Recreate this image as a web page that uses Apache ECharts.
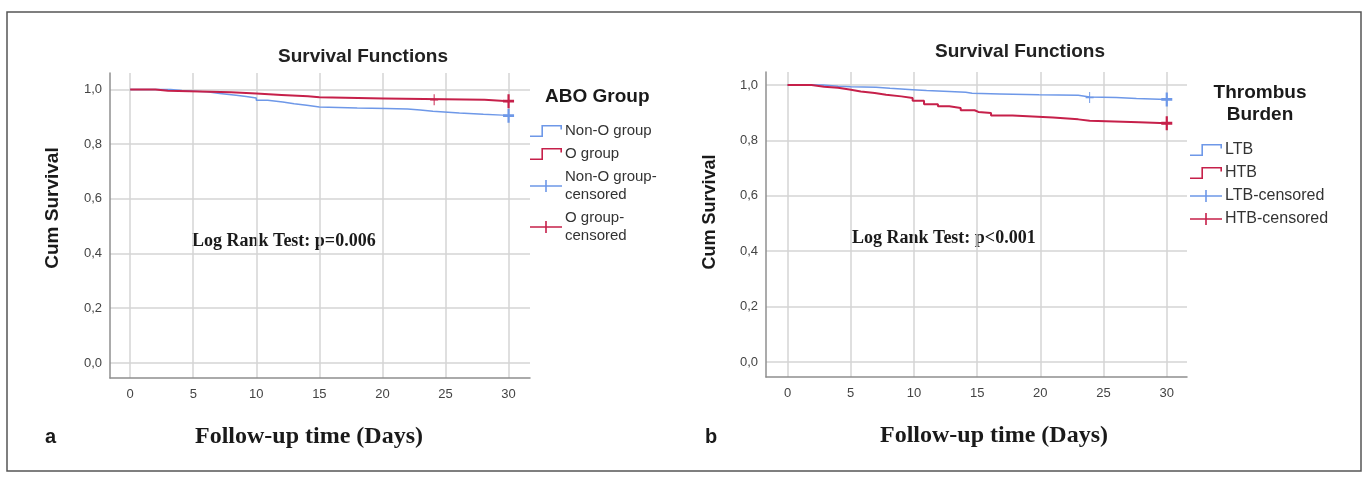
<!DOCTYPE html>
<html><head><meta charset="utf-8">
<script src="https://cdn.jsdelivr.net/npm/echarts@6/dist/echarts.min.js"></script>
<style>html,body{margin:0;padding:0;background:#fff}#c{width:1368px;height:482px}</style>
</head><body><div id="c"></div>
<script>
// ---------- shared ticks ----------
const xTicks = [0, 5, 10, 15, 20, 25, 30];
const yTicks = [0, 0.2, 0.4, 0.6, 0.8, 1.0];
const yTickLabels = ['0,0', '0,2', '0,4', '0,6', '0,8', '1,0'];

// ---------- panel a: ABO group ----------
const nonOTime = [0, 3.2, 4.1, 6.1, 7.1, 8.4, 9.2, 10.0, 10.9, 12.1, 13.0, 14.0, 15.0, 16.5, 18.0, 20.3, 22.0, 23.0, 24.0, 26.1, 28.0, 29.5, 30];
const nonOSurv = [1.0, 0.996, 0.991, 0.985, 0.979, 0.974, 0.969, 0.960, 0.954, 0.948, 0.942, 0.936, 0.934, 0.932, 0.930, 0.928, 0.925, 0.920, 0.914, 0.909, 0.906, 0.904, 0.904];
const oTime = [0, 2.0, 3.0, 8.0, 10.0, 12.0, 14.1, 15.0, 20.1, 28.1, 30];
const oSurv = [1.0, 0.995, 0.990, 0.985, 0.980, 0.975, 0.971, 0.967, 0.962, 0.957, 0.957];
const nonOCensTime = [30];
const nonOCensSurv = [0.904];
const oCensTime = [24.1, 30];
const oCensSurv = [0.962, 0.957];

// ---------- panel b: thrombus burden ----------
const ltbTime = [0, 2.8, 4.0, 5.0, 7.0, 8.1, 9.9, 11.0, 12.8, 14.1, 14.6, 16.8, 19.9, 23.0, 23.9, 26.0, 27.6, 30];
const ltbSurv = [1.0, 0.996, 0.994, 0.992, 0.988, 0.983, 0.980, 0.977, 0.974, 0.970, 0.968, 0.965, 0.963, 0.957, 0.955, 0.951, 0.948, 0.948];
const htbTime = [0, 1.9, 2.9, 4.0, 4.9, 5.8, 6.9, 7.8, 9.0, 9.9, 10.8, 11.9, 12.8, 13.7, 14.8, 15.1, 16.1, 17.8, 21.0, 23.0, 23.9, 27.8, 30];
const htbSurv = [1.0, 0.994, 0.990, 0.984, 0.977, 0.971, 0.965, 0.959, 0.953, 0.943, 0.931, 0.923, 0.917, 0.909, 0.903, 0.899, 0.890, 0.883, 0.876, 0.871, 0.866, 0.862, 0.862];
const ltbCensTime = [23.9, 30];
const ltbCensSurv = [0.955, 0.948];
const htbCensTime = [30];
const htbCensSurv = [0.862];

// ---------- styling ----------
const BLUE = '#6e98e8';
const RED = '#c6204a';
const SANS = '"Liberation Sans", Arial, sans-serif';
const SERIF = '"Liberation Serif", "Times New Roman", serif';
const GRID_C = '#d4d4d4';
const AXIS_C = '#8f8f8f';

const zip = (a, b) => a.map((v, i) => [v, b[i]]);
const STEP_ICON = 'path://M0,10.4h13v1.6h-13z M11.4,0h1.6v12h-1.6z M11.4,0h20.6v1.6h-20.6z M30.4,0h1.6v4.5h-1.6z';
const PLUS_ICON = 'path://M0,5.2h32v1.6h-32z M15.2,0h1.6v12h-1.6z';
const PLUS_THIN = 'path://M0,4.4h10v1.2h-10z M4.4,0h1.2v10h-1.2z';
const PLUS_THICK = 'path://M0,4h10v2h-10z M4,0h2v10h-2z';

function xAxis(gi, min, max) {
  return {
    type: 'value', gridIndex: gi, min: min, max: max,
    axisLine: { show: true, onZero: false, lineStyle: { color: AXIS_C, width: 1.5 } },
    axisTick: { show: false, customValues: xTicks },
    axisLabel: { customValues: xTicks, color: '#444', fontSize: 13, fontFamily: SANS, margin: 10 },
    splitLine: { show: true, lineStyle: { color: GRID_C, width: 1.5 } }
  };
}
function yAxis(gi, min, max) {
  return {
    type: 'value', gridIndex: gi, min: min, max: max,
    axisLine: { show: true, onZero: false, lineStyle: { color: AXIS_C, width: 1.5 } },
    axisTick: { show: false, customValues: yTicks },
    axisLabel: {
      customValues: yTicks, color: '#444', fontSize: 13, fontFamily: SANS, margin: 8,
      formatter: v => yTickLabels[yTicks.findIndex(t => Math.abs(t - v) < 1e-6)] || ''
    },
    splitLine: { show: true, lineStyle: { color: GRID_C, width: 1.5 } }
  };
}
function stepSeries(name, gi, t, s, color, width, z) {
  return {
    type: 'line', name: name, xAxisIndex: gi, yAxisIndex: gi, step: 'end',
    symbol: 'none', data: zip(t, s), z: z, silent: true,
    lineStyle: { color: color, width: width }, itemStyle: { color: color },
    emphasis: { disabled: true }
  };
}
function censSeries(name, gi, t, s, color, z) {
  return {
    type: 'scatter', name: name, xAxisIndex: gi, yAxisIndex: gi,
    data: zip(t, s), z: z, silent: true,
    symbol: (v) => v[0] >= 29.9 ? PLUS_THICK : PLUS_THIN,
    symbolSize: (v) => v[0] >= 29.9 ? [11, 14] : [8, 11],
    itemStyle: { color: color, opacity: 1 },
    emphasis: { disabled: true }
  };
}
function legend(names, icons, left, top, fs) {
  return {
    orient: 'vertical', left: left, top: top, itemWidth: 32, itemHeight: 12, itemGap: 5,
    selectedMode: false, padding: 0,
    itemStyle: { borderWidth: 0 },
    textStyle: { color: '#333', fontSize: fs, fontFamily: SANS, lineHeight: 18, padding: [0, 0, 0, -2] },
    data: names.map((n, i) => ({ name: n, icon: icons[i] }))
  };
}
function txt(x, y, text, font, align, extra) {
  return Object.assign({
    type: 'text', x: x, y: y, silent: true,
    style: { text: text, x: 0, y: 0, font: font, fill: '#1a1a1a', textAlign: align || 'left', textVerticalAlign: 'middle' }
  }, extra || {});
}

const chart = echarts.init(document.getElementById('c'), null, { renderer: 'canvas' });
chart.setOption({
  backgroundColor: '#ffffff',
  animation: false,
  grid: [
    { left: 110, top: 73, width: 420, height: 305 },
    { left: 766, top: 72, width: 421, height: 305 }
  ],
  xAxis: [xAxis(0, -1.6, 31.7), xAxis(1, -1.7, 31.6)],
  yAxis: [yAxis(0, -0.055, 1.06), yAxis(1, -0.054, 1.047)],
  legend: [
    legend(['Non-O group', 'O group', 'Non-O group-\ncensored', 'O group-\ncensored'],
      [STEP_ICON, STEP_ICON, PLUS_ICON, PLUS_ICON], 530, 122, 15),
    legend(['LTB', 'HTB', 'LTB-censored', 'HTB-censored'],
      [STEP_ICON, STEP_ICON, PLUS_ICON, PLUS_ICON], 1190, 141, 16)
  ],
  series: [
    stepSeries('Non-O group', 0, nonOTime, nonOSurv, BLUE, 1.5, 3),
    stepSeries('O group', 0, oTime, oSurv, RED, 2, 4),
    censSeries('Non-O group-\ncensored', 0, nonOCensTime, nonOCensSurv, BLUE, 5),
    censSeries('O group-\ncensored', 0, oCensTime, oCensSurv, RED, 6),
    stepSeries('LTB', 1, ltbTime, ltbSurv, BLUE, 1.5, 3),
    stepSeries('HTB', 1, htbTime, htbSurv, RED, 2, 4),
    censSeries('LTB-censored', 1, ltbCensTime, ltbCensSurv, BLUE, 5),
    censSeries('HTB-censored', 1, htbCensTime, htbCensSurv, RED, 6)
  ],
  graphic: [
    { type: 'rect', silent: true, shape: { x: 7, y: 12, width: 1354, height: 459 },
      style: { fill: 'none', stroke: '#555', lineWidth: 1.5 } },
    txt(363, 57, 'Survival Functions', 'bold 19px ' + SANS, 'center', { style: { text: 'Survival Functions', x: 0, y: 0, font: 'bold 19px ' + SANS, fill: '#222', textAlign: 'center', textVerticalAlign: 'middle' } }),
    txt(1020, 52, 'Survival Functions', 'bold 19px ' + SANS, 'center', { style: { text: 'Survival Functions', x: 0, y: 0, font: 'bold 19px ' + SANS, fill: '#222', textAlign: 'center', textVerticalAlign: 'middle' } }),
    txt(53, 208, 'Cum Survival', 'bold 19px ' + SANS, 'center', { rotation: Math.PI / 2 }),
    txt(710, 212, 'Cum Survival', 'bold 18px ' + SANS, 'center', { rotation: Math.PI / 2 }),
    txt(545, 97, 'ABO Group', 'bold 19px ' + SANS, 'left'),
    txt(1260, 93, 'Thrombus', 'bold 19px ' + SANS, 'center'),
    txt(1260, 115, 'Burden', 'bold 19px ' + SANS, 'center'),
    txt(192, 241, 'Log Rank Test: p=0.006', 'bold 18px ' + SERIF, 'left'),
    txt(852, 238, 'Log Rank Test: p<0.001', 'bold 18px ' + SERIF, 'left'),
    txt(309, 437, 'Follow-up time (Days)', 'bold 24px ' + SERIF, 'center'),
    txt(994, 436, 'Follow-up time (Days)', 'bold 24px ' + SERIF, 'center'),
    txt(45, 437, 'a', 'bold 20px ' + SANS, 'left'),
    txt(705, 437, 'b', 'bold 20px ' + SANS, 'left')
  ]
});
</script>
</body></html>
